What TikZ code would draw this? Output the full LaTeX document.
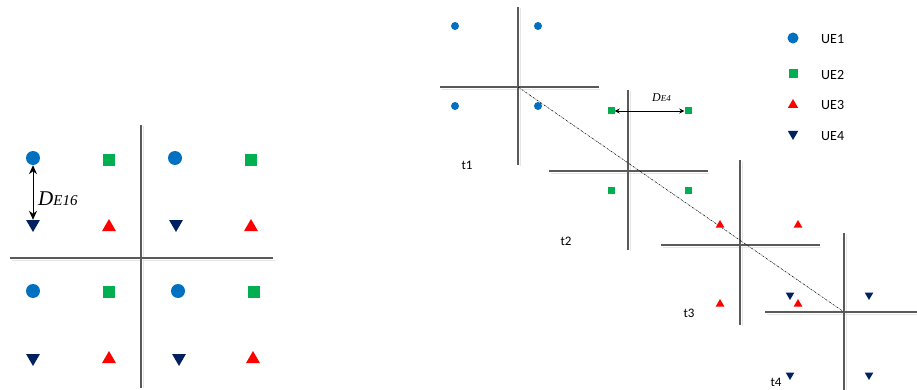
\documentclass[tikz,border=0pt]{standalone}
\usepackage{fontspec}
\setmainfont{Carlito}
\newfontfamily\serifit{Liberation Serif}
\usetikzlibrary{shapes.geometric,arrows.meta}
\definecolor{ueblue}{HTML}{0070C0}
\definecolor{uegreen}{HTML}{00B050}
\definecolor{uered}{HTML}{FF0000}
\definecolor{uenavy}{HTML}{002060}
\definecolor{axisgray}{HTML}{5A5A5A}
\definecolor{shadegray}{HTML}{E6E6E6}
\tikzset{
  ax/.style={draw=axisgray,line width=1.1pt},
  axshade/.style={draw=shadegray,line width=0.8pt},
  ueone/.style={circle,fill=ueblue,inner sep=0pt,minimum size=#1},
  uetwo/.style={rectangle,fill=uegreen,inner sep=0pt,minimum width=#1,minimum height=#1},
  uethree/.style={regular polygon,regular polygon sides=3,fill=uered,inner sep=0pt,minimum size=#1},
  uefour/.style={regular polygon,regular polygon sides=3,shape border rotate=180,fill=uenavy,inner sep=0pt,minimum size=#1},
  tlabel/.style={font=\fontsize{13}{15}\selectfont,inner sep=0pt},
  leglabel/.style={font=\fontsize{14}{16}\selectfont,inner sep=0pt,anchor=west},
  distbig/.style={{Stealth[length=9pt,width=8pt]}-{Stealth[length=9pt,width=8pt]},line width=1pt},
  dist/.style={{Stealth[length=5pt,width=5pt]}-{Stealth[length=5pt,width=5pt]},line width=0.9pt},
  trail/.style={draw=black,line width=0.5pt,dash pattern=on 2pt off 1pt on 0.5pt off 1pt}
}
\begin{document}
\begin{tikzpicture}[x=1pt,y=-1pt]
\useasboundingbox (0,0) rectangle (917,390);
% ---------- left panel ----------
\draw[axshade] (12,260) -- (275,260);
\draw[axshade] (143,126) -- (143,388);
\draw[ax] (10,258) -- (273,258);
\draw[ax] (141,125) -- (141,388);
\node[ueone=14pt] (l1) at (33,158) {};
\node[ueone=14pt] (l2) at (175,158) {};
\node[ueone=14pt] (l3) at (33,291) {};
\node[ueone=14pt] (l4) at (178,291) {};
\node[uetwo=12pt] (l5) at (109,160) {};
\node[uetwo=12pt] (l6) at (251,160) {};
\node[uetwo=12pt] (l7) at (109,292) {};
\node[uetwo=12pt] (l8) at (254,292) {};
\node[uethree=16pt] (l9) at (109,227) {};
\node[uethree=16pt] (l10) at (251,227) {};
\node[uethree=16pt] (l11) at (109,359) {};
\node[uethree=16pt] (l12) at (253,359) {};
\node[uefour=16pt] (l13) at (33,224) {};
\node[uefour=16pt] (l14) at (176,224) {};
\node[uefour=16pt] (l15) at (33,358) {};
\node[uefour=16pt] (l16) at (179,358) {};
\draw[distbig] (l1) -- (l13);
\node[anchor=base west,inner sep=0pt] (dl) at (38,205) {\serifit\itshape\fontsize{21}{23}\selectfont D\fontsize{15}{17}\selectfont E16};
% ---------- right panel: crosses ----------
\coordinate (c1) at (518,87);
\coordinate (c2) at (628,171);
\coordinate (c3) at (740,245);
\coordinate (c4) at (844,312);
\draw[axshade] (442,89) -- (600,89);
\draw[axshade] (520,8) -- (520,166);
\draw[axshade] (551,173) -- (709,173);
\draw[axshade] (630,91) -- (630,251);
\draw[axshade] (663,247) -- (821,247);
\draw[axshade] (742,162) -- (742,326);
\draw[axshade] (767,314) -- (917,314);
\draw[axshade] (846,234) -- (846,390);
\draw[ax] (440,87) -- (599,87);
\draw[ax] (518,7) -- (518,165);
\draw[ax] (549,171) -- (708,171);
\draw[ax] (628,90) -- (628,250);
\draw[ax] (661,245) -- (820,245);
\draw[ax] (740,160) -- (740,325);
\draw[ax] (765,312) -- (917,312);
\draw[ax] (844,233) -- (844,390);
\draw[trail] (c1) -- (c4);
% t1
\node[ueone=8pt] (a1) at (455,26) {};
\node[ueone=8pt] (a2) at (538,26) {};
\node[ueone=8pt] (a3) at (455,106) {};
\node[ueone=8pt] (a4) at (538,106) {};
\node[tlabel] (t1) at (467,165) {t1};
% t2
\node[uetwo=7pt] (b1) at (611,111) {};
\node[uetwo=7pt] (b2) at (688,111) {};
\node[uetwo=7pt] (b3) at (611,190) {};
\node[uetwo=7pt] (b4) at (688,190) {};
\draw[dist] (b1) -- (b2);
\node[anchor=base west,inner sep=0pt] (de4) at (652,102) {\serifit\itshape\fontsize{12}{14}\selectfont D\fontsize{9}{11}\selectfont E4};
\node[tlabel] (t2) at (566,241) {t2};
% t3
\node[uethree=10pt] (c31) at (720,225) {};
\node[uethree=10pt] (c32) at (798,225) {};
\node[uethree=10pt] (c33) at (720,304) {};
\node[uethree=10pt] (c34) at (798,304) {};
\node[tlabel] (t3) at (689,313) {t3};
% t4
\node[uefour=10pt] (d1) at (790,295) {};
\node[uefour=10pt] (d2) at (869,295) {};
\node[uefour=10pt] (d3) at (790,375) {};
\node[uefour=10pt] (d4) at (869,375) {};
\node[tlabel] (t4) at (776,382) {t4};
% legend
\node[ueone=11pt] (k1) at (793,38) {};
\node[uetwo=9pt] (k2) at (793,74) {};
\node[uethree=12pt] (k3) at (793,105) {};
\node[uefour=12pt] (k4) at (793,134) {};
\node[leglabel] (n1) at (821,39) {UE1};
\node[leglabel] (n2) at (821,75) {UE2};
\node[leglabel] (n3) at (821,105) {UE3};
\node[leglabel] (n4) at (821,136) {UE4};
\end{tikzpicture}
\end{document}
